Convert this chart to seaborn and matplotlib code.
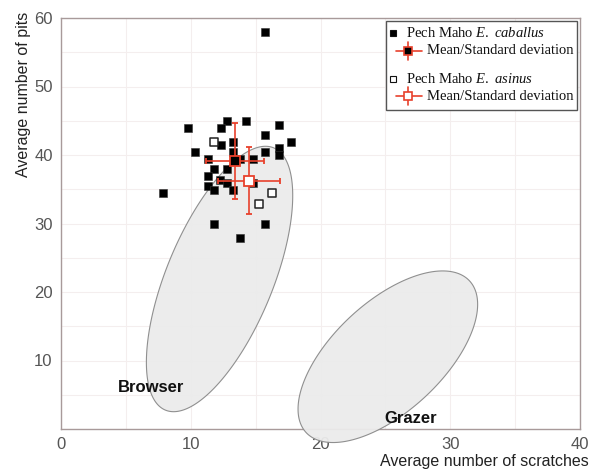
import matplotlib
matplotlib.use("Agg")
import matplotlib.pyplot as plt
import numpy as np
import pandas as pd
import seaborn as sns
from matplotlib.patches import Rectangle

# Pech Maho E. caballus (filled squares)
caballus_x = [15.75, 12.8, 14.28, 9.8, 12.3, 16.77, 15.75, 17.74, 12.3, 13.28, 16.77,
              16.77, 10.3, 13.28, 15.75, 11.31, 13.8, 14.8, 11.8, 12.79, 11.31, 12.28,
              12.79, 11.31, 11.8, 13.28, 14.8, 7.85, 11.8, 15.75, 13.8]
caballus_y = [58.0, 45.0, 45.0, 43.9, 43.9, 44.4, 42.9, 41.9, 41.5, 41.9, 41.0,
              40.0, 40.4, 40.4, 40.4, 39.4, 39.4, 39.4, 37.9, 37.9, 37.0, 36.4,
              35.9, 35.5, 34.9, 34.9, 35.9, 34.4, 29.9, 29.9, 27.9]

# Pech Maho E. asinus (open squares)
asinus_x = [11.8, 16.26, 15.26]
asinus_y = [41.9, 34.4, 32.9]

# mean / standard deviation (caballus, asinus)
mean_x = [13.41, 14.49]
mean_y = [39.1, 36.25]
sd_x = [2.26, 2.37]
sd_y = [5.5, 4.85]

# reference diet zones (ellipses in data units)
zone_names = ["Browser", "Grazer"]
zone_center_x = [12.22, 25.19]
zone_center_y = [21.9, 10.55]
zone_var_x = [31.8, 47.9]
zone_var_y = [375.3, 156.9]
zone_cov = [68.6, 52.9]
zone_label_x = [4.4, 24.9]
zone_label_y = [6.0, 1.5]

x_ticks = [0, 10, 20, 30, 40]
y_ticks = [10, 20, 30, 40, 50, 60]

RED = "#e8412c"
FRAME = "#a89a9a"
TICK_COLOR = "#555555"

sns.set_style("white")
plt.rcParams["font.family"] = ["Liberation Sans", "DejaVu Sans"]
plt.rcParams["mathtext.fontset"] = "custom"
plt.rcParams["mathtext.rm"] = "Liberation Serif"
plt.rcParams["mathtext.it"] = "Liberation Serif:italic"

df_cab = pd.DataFrame({"scratches": caballus_x, "pits": caballus_y})
df_asi = pd.DataFrame({"scratches": asinus_x, "pits": asinus_y})

fig = plt.figure(figsize=(5.96, 4.71), dpi=100)
ax = fig.add_axes([61 / 596, 42 / 471, 519 / 596, 411 / 471])

# diet zones
t = np.linspace(0, 2 * np.pi, 300)
for i, name in enumerate(zone_names):
    cov = np.array([[zone_var_x[i], zone_cov[i]], [zone_cov[i], zone_var_y[i]]])
    pts = np.linalg.cholesky(cov) @ np.vstack([np.cos(t), np.sin(t)])
    ax.fill(zone_center_x[i] + pts[0], zone_center_y[i] + pts[1],
            facecolor="#ebebeb", edgecolor="#8a8a8a", lw=0.8, alpha=0.95,
            zorder=2.6, clip_on=False)
    ax.text(zone_label_x[i], zone_label_y[i], name, fontsize=12, fontweight="bold",
            ha="left", va="center", color="#111111", zorder=3)

sns.scatterplot(data=df_cab, x="scratches", y="pits", marker="s", s=32, color="black",
                edgecolor="#333333", linewidth=0.4, ax=ax, zorder=3, legend=False)
sns.scatterplot(data=df_asi, x="scratches", y="pits", marker="s", s=26, color="white",
                edgecolor="#222222", linewidth=1.1, ax=ax, zorder=3, legend=False)

faces = ["black", "white"]
for i in range(2):
    ax.errorbar(mean_x[i], mean_y[i], xerr=sd_x[i], yerr=sd_y[i], fmt="s", ms=6.5,
                mfc=faces[i], mec=RED, mew=1.3, ecolor=RED, elinewidth=1.2,
                capsize=2.5, capthick=1.2, zorder=5)

ax.set_xlim(0, 40)
ax.set_ylim(0, 60)
ax.set_xticks(x_ticks)
ax.set_yticks(y_ticks)
ax.set_xticks(np.arange(0, 41, 5), minor=True)
ax.set_yticks(np.arange(0, 61, 5), minor=True)
ax.grid(True, which="both", color="#f4eeee", lw=0.8)
ax.set_axisbelow(True)
ax.tick_params(axis="both", which="both", length=0, labelsize=12, labelcolor=TICK_COLOR)
ax.tick_params(axis="y", pad=6)
ax.tick_params(axis="x", pad=6)
for sp in ax.spines.values():
    sp.set_visible(True)
    sp.set_color(FRAME)
    sp.set_linewidth(1.0)

ax.set_xlabel("Average number of scratches", fontsize=11.5, color="#222222", loc="right")
ax.xaxis.set_label_coords(1.016, -0.06)
ax.set_ylabel("Average number of pits", fontsize=11.5, color="#222222", loc="top")
ax.yaxis.set_label_coords(-0.058, 1.015)

# legend box drawn by hand (indented mean/sd rows)
tr = ax.transAxes
ax.add_patch(Rectangle((0.626, 0.776), 0.368, 0.216, transform=tr, facecolor="white",
                       edgecolor="#555555", lw=1.0, zorder=6))
leg_font = dict(fontsize=10.5, family="Liberation Serif", va="center", ha="left",
                color="#111111", zorder=7, transform=tr)
rows = [(0.9635, "black", r"Pech Maho $\mathit{E.\ caballus}$"),
        (0.852, "white", r"Pech Maho $\mathit{E.\ asinus}$")]
for y, face, label in rows:
    ax.plot([0.6397], [y], marker="s", ms=5, mfc=face, mec="#111111", mew=0.8,
            transform=tr, zorder=7, clip_on=False)
    ax.text(0.665, y, label, **leg_font)
sub_rows = [(0.92, "black"), (0.81, "white")]
for y, face in sub_rows:
    ax.plot([0.6455, 0.6956], [y, y], color=RED, lw=1.2, transform=tr, zorder=7)
    ax.plot([0.6686, 0.6686], [y - 0.022, y + 0.022], color=RED, lw=1.2,
            transform=tr, zorder=7)
    ax.plot([0.6686], [y], marker="s", ms=6, mfc=face, mec=RED, mew=1.2,
            transform=tr, zorder=8)
    ax.text(0.705, y, "Mean/Standard deviation", **leg_font)

fig.savefig("out.png", dpi=100)
